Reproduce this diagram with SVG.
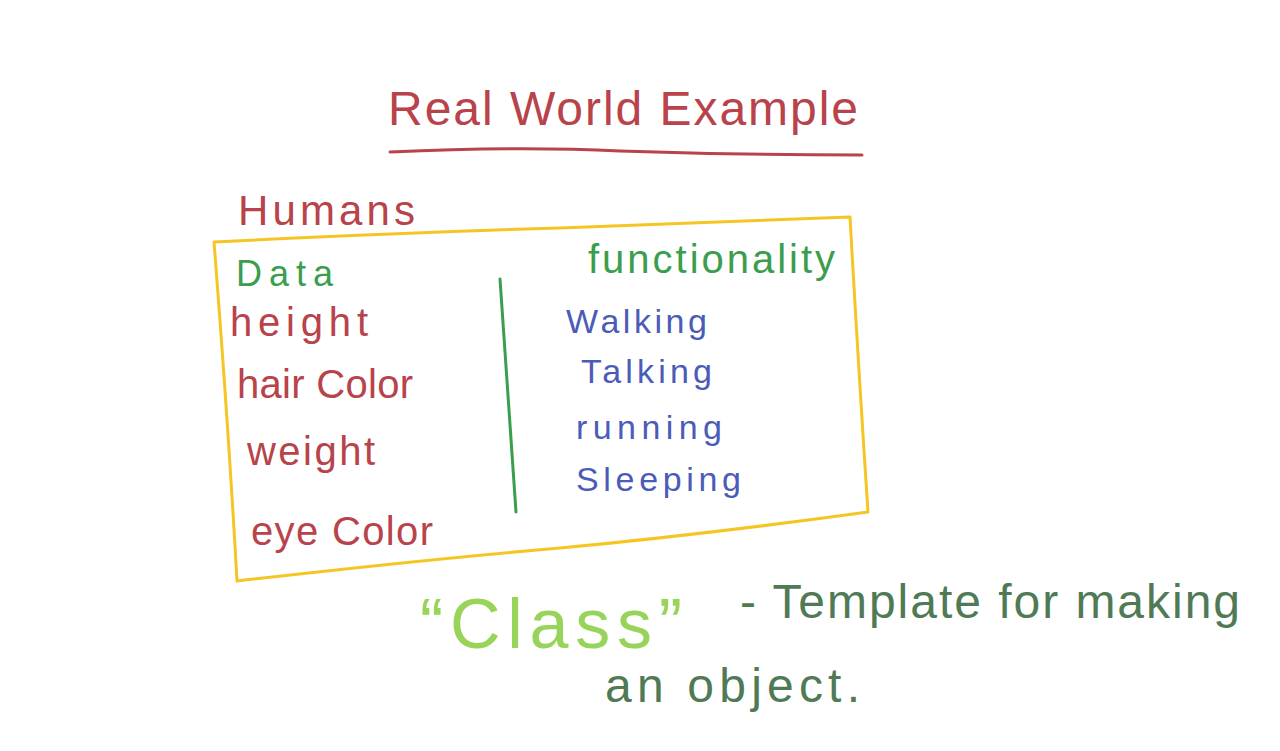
<svg xmlns="http://www.w3.org/2000/svg" width="1280" height="751" viewBox="0 0 1280 751">
<style>
text{font-family:"Liberation Sans","DejaVu Sans",sans-serif;}
.red{fill:#b8434b;}
.grn{fill:#3a9e4c;}
.blu{fill:#4a5cb8;}
.lgr{fill:#98d45a;}
.dgr{fill:#4f7a55;}
.ink{fill:none;stroke-linecap:round;stroke-linejoin:round;}
</style>
<rect width="1280" height="751" fill="#ffffff"/>
<g id="title">
<text class="red" x="388" y="125" font-size="48" textLength="470" lengthAdjust="spacing">Real World Example</text>
<path class="ink" d="M390 152 Q520 146 620 151 Q740 155 862 155" stroke="#b8434b" stroke-width="3"/>
</g>
<g id="humans">
<text class="red" x="238" y="225" font-size="42" textLength="177" lengthAdjust="spacing">Humans</text>
<path class="ink" d="M214 242 Q420 232 560 228 Q720 222 850 217 Q858 360 868 512 Q700 535 560 548 Q420 560 237 581 Q228 420 214 242 Z" stroke="#f5c623" stroke-width="3"/>
</g>
<g id="data">
<text class="grn" x="236" y="286" font-size="36" textLength="97" lengthAdjust="spacing">Data</text>
<text class="red" x="230" y="336" font-size="40" textLength="138" lengthAdjust="spacing">height</text>
<text class="red" x="237" y="398" font-size="40" textLength="176" lengthAdjust="spacing">hair Color</text>
<text class="red" x="247" y="465" font-size="40" textLength="128" lengthAdjust="spacing">weight</text>
<text class="red" x="251" y="545" font-size="40" textLength="182" lengthAdjust="spacing">eye Color</text>
</g>
<g id="divider">
<path class="ink" d="M500 279 Q508 400 516 512" stroke="#3a9e4c" stroke-width="3"/>
</g>
<g id="functionality">
<text class="grn" x="588" y="273" font-size="40" textLength="247" lengthAdjust="spacing">functionality</text>
<text class="blu" x="566" y="333" font-size="34" textLength="141" lengthAdjust="spacing">Walking</text>
<text class="blu" x="581" y="383" font-size="34" textLength="131" lengthAdjust="spacing">Talking</text>
<text class="blu" x="576" y="439" font-size="34" textLength="146" lengthAdjust="spacing">running</text>
<text class="blu" x="576" y="491" font-size="34" textLength="165" lengthAdjust="spacing">Sleeping</text>
</g>
<g id="definition">
<text class="lgr" x="420" y="648" font-size="70" textLength="262" lengthAdjust="spacing">“Class”</text>
<text class="dgr" x="740" y="618" font-size="48" textLength="500" lengthAdjust="spacing">- Template for making</text>
<text class="dgr" x="605" y="702" font-size="48" textLength="255" lengthAdjust="spacing">an object.</text>
</g>
</svg>
